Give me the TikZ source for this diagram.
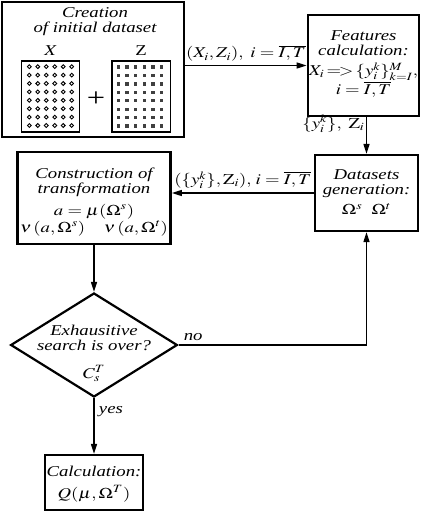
\documentclass[tikz,border=0pt]{standalone}
\usepackage{mathptmx}
\usepackage[no-math]{fontspec}
\setmainfont{Liberation Serif}
\usetikzlibrary{shapes.geometric,arrows.meta,positioning}
\newcommand{\blockfont}{\fontsize{15}{15}\selectfont\itshape}
\newcommand{\linestrut}[2]{\vrule width 0pt height #1 depth #2\relax}

\begin{document}
\begin{tikzpicture}[x=1pt, y=-1pt,
    every node/.style={xscale=1.25, transform shape, align=center, font=\blockfont},
    block/.style={draw, line width=2.2pt, inner sep=0pt},
    matbox/.style={draw, line width=1.6pt, inner sep=0pt,
        minimum width=46.6pt, minimum height=71pt},
    link/.style={line width=1.3pt, ->},
    >={Triangle[length=10pt,width=6pt]}]
    \useasboundingbox (0,0) rectangle (421,519);

    % Initial dataset block
    \node[block, minimum width=145.6pt, minimum height=135pt] (init) at (93,69.5) {};
    \node (inittitle) at (95,21.3)
        {\linestrut{12pt}{4pt}Creation\\\linestrut{11pt}{4pt}of initial dataset};
    \node (xlabel) at (51,51) {$X$};
    \node (zlabel) at (141,51) {\upshape Z};
    \node[matbox] (xmat) at (50.5,96.5) {};
    \node[matbox] (zmat) at (141.3,96.7) {};
    \node[font=\fontsize{26}{26}\selectfont\upshape] (plus) at (96,99) {+};
    \foreach \i in {0,...,5}
        \foreach \j in {0,...,7} {
            \draw[line width=0.9pt] (29.3+8.48*\i, 66.7+8.4*\j) circle (1.9pt);
            \fill[black!75] (116.8+8.67*\i, 65.5+8.4*\j) rectangle +(3.2,3.2);
        }

    % Process blocks
    \node[block, minimum width=88.8pt, minimum height=101pt] (feat) at (363.5,65.5)
        {\linestrut{12pt}{4pt}Features\\
         \linestrut{11pt}{5pt}calculation:\\
         \linestrut{14pt}{3pt}$X_i\!=\!>\!\{y_i^k\}_{k=I}^M,$\\
         \linestrut{13pt}{8pt}$i=\overline{I,T}$};
    \node[block, minimum width=82.4pt, minimum height=76pt] (ds) at (366.5,193)
        {\linestrut{12pt}{4pt}Datasets\\
         \linestrut{11pt}{5pt}generation:\\
         \linestrut{14pt}{4pt}$\Omega^s\ \ \Omega^t$};
    \node[block, minimum width=122.4pt, minimum height=92pt] (cons) at (94,198)
        {\linestrut{18pt}{3pt}Construction of\\
         \linestrut{11pt}{7pt}transformation\\
         \linestrut{14pt}{4pt}$a=\mu(\Omega^s)$\\
         \linestrut{12pt}{4pt}$\nu\,(a,\Omega^s)\quad\nu\,(a,\Omega^t)$};
    \node[draw, diamond, line width=2.2pt, minimum width=133.6pt, minimum height=104pt,
        inner sep=-18pt] (dia) at (94,345)
        {\linestrut{27pt}{3pt}Exhausitive\\
         \linestrut{11pt}{10pt}search is over?\\
         \linestrut{17pt}{4pt}$C_s^T$};
    \node[block, minimum width=78.4pt, minimum height=55pt] (calc) at (94,482.5)
        {\linestrut{14pt}{6pt}Calculation:\\
         \linestrut{14.3pt}{4.3pt}$Q(\mu,\Omega^T)$};

    % Connectors
    \draw[link] (init.east |- feat.west) -- (feat.west)
        node[midway, above] {$(X_i,Z_i),\ i=\overline{I,T}$};
    \draw[link] (ds.north |- feat.south) -- (ds.north)
        node[pos=0.18, left, inner sep=1pt] {$\{y_i^k\},\ \mathrm{Z}_i$};
    \draw[link] (ds.west) -- (ds.west -| cons.east)
        node[midway, above] {$(\{y_i^k\},\mathrm{Z}_i),\,i=\overline{I,T}$};
    \draw[link] (cons.south) -- (dia.north);
    \draw[link] (dia.east) node[above right] {no} -| (ds.south);
    \draw[link] (dia.south) -- (calc.north) node[pos=0.25, right] {yes};
\end{tikzpicture}
\end{document}
